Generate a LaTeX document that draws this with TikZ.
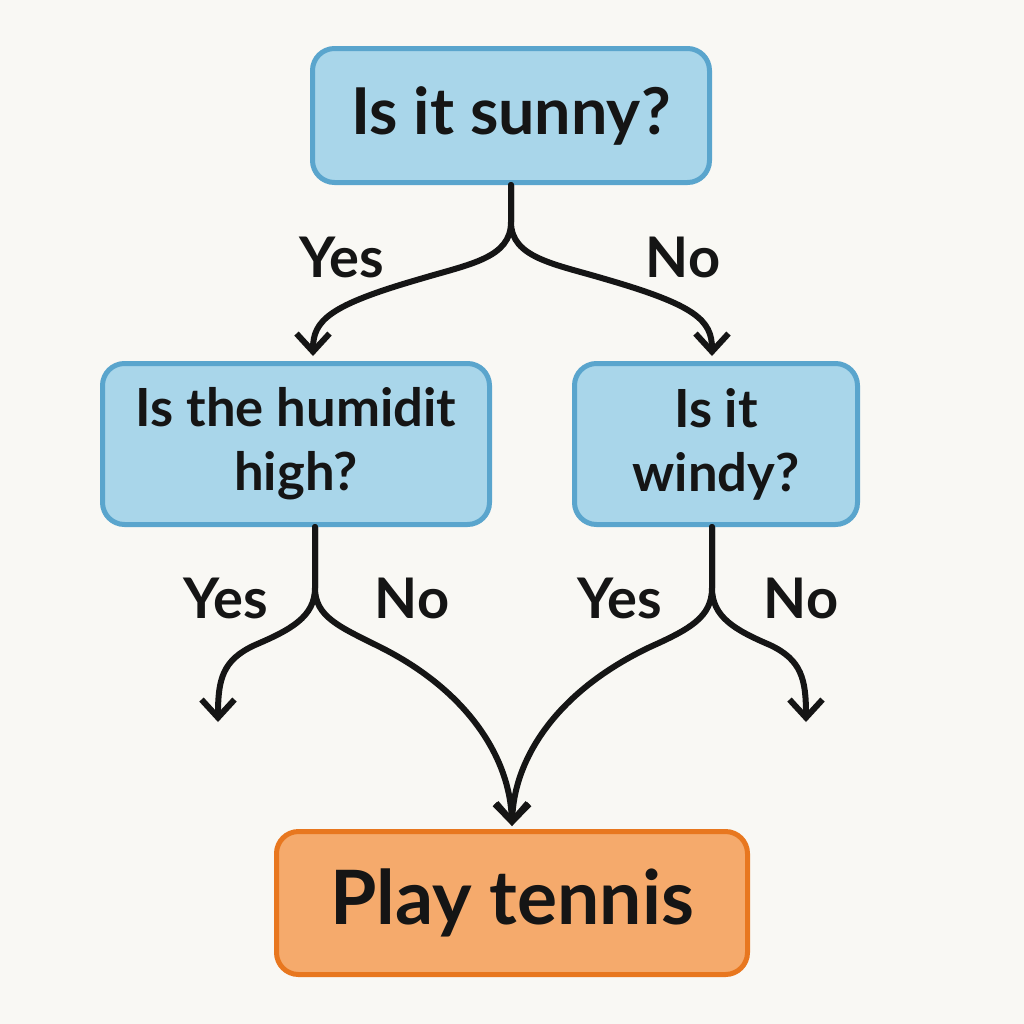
\documentclass[tikz,border=0pt]{standalone}
\usepackage{fontspec}
\setmainfont{Lato}
\usetikzlibrary{arrows.meta}
\definecolor{bg}{HTML}{F9F8F4}
\definecolor{bluefill}{HTML}{A9D6EA}
\definecolor{blueline}{HTML}{5AA5CD}
\definecolor{orangefill}{HTML}{F5AA6C}
\definecolor{orangeline}{HTML}{E8771F}
\definecolor{ink}{HTML}{151515}
\tikzset{
  qbox/.style={draw=blueline, fill=bluefill, line width=2.5pt, rounded corners=11pt,
    text=ink, font=\bfseries\fontsize{26.3}{32}\selectfont, align=center, inner sep=0pt},
  obox/.style={draw=orangeline, fill=orangefill, line width=2.5pt, rounded corners=11pt,
    text=ink, font=\bfseries\fontsize{37.5}{40}\selectfont, inner sep=0pt,
    minimum width=235.5pt, minimum height=71.5pt},
  conn/.style={draw=ink, line width=3pt, line cap=round,
    -{Straight Barb[length=9pt,width=16.5pt,line width=3pt]}},
  lbl/.style={text=ink, font=\bfseries\fontsize{28}{30}\selectfont, inner sep=0pt}
}
\begin{document}
\begin{tikzpicture}[x=0.5pt,y=-0.5pt]
\fill[bg] (0,0) rectangle (1024,1024);
\useasboundingbox (0,0) rectangle (1024,1024);
\node[qbox, minimum width=198.5pt, minimum height=67pt, font=\bfseries\fontsize{32.3}{36}\selectfont] (top) at (511,115.5) {Is it sunny?};
\node[qbox, minimum width=193.5pt, minimum height=80.5pt] (hum) at (296,444) {Is the humidit\\high?};
\node[qbox, minimum width=141.5pt, minimum height=80.5pt] (wind) at (716,444) {Is it\\windy?};
\node[obox] (play) at (512,903) {Play tennis};
% coordinates
\coordinate (j1) at (511,222);
\coordinate (tA) at (313,356);
\coordinate (tB) at (712,356);
\coordinate (j2) at (315,588);
\coordinate (j3) at (712,588);
\coordinate (tC) at (218,722);
\coordinate (tD) at (806,722);
\coordinate (tE) at (512,826);
% top branches
\draw[conn] (top.south -| j1) -- (j1) .. controls (511,258) and (470,264) .. (420,279) .. controls (330,305) and (313,320) .. (tA);
\draw[conn] (top.south -| j1) -- (j1) .. controls (511,258) and (555,264) .. (605,279) .. controls (695,305) and (712,320) .. (tB);
% left box branches
\draw[conn] (hum.south -| j2) -- (j2) .. controls (315,617) and (290,630) .. (255,645) .. controls (222,660) and (218,680) .. (tC);
\draw[conn] (hum.south -| j2) -- (j2) .. controls (315,617) and (340,627) .. (380,647) .. controls (470,692) and (510,760) .. (tE);
% right box branches
\draw[conn] (wind.south -| j3) -- (j3) .. controls (712,617) and (690,629) .. (650,647) .. controls (555,692) and (514,760) .. (tE);
\draw[conn] (wind.south -| j3) -- (j3) .. controls (712,617) and (735,630) .. (770,645) .. controls (802,660) and (806,680) .. (tD);
% labels
\node[lbl] (l1) at (342,257) {Yes};
\node[lbl] (l2) at (683,257) {No};
\node[lbl] (l3) at (226,598) {Yes};
\node[lbl] (l4) at (412,598) {No};
\node[lbl] (l5) at (620,598) {Yes};
\node[lbl] (l6) at (801,598) {No};
\end{tikzpicture}
\end{document}
